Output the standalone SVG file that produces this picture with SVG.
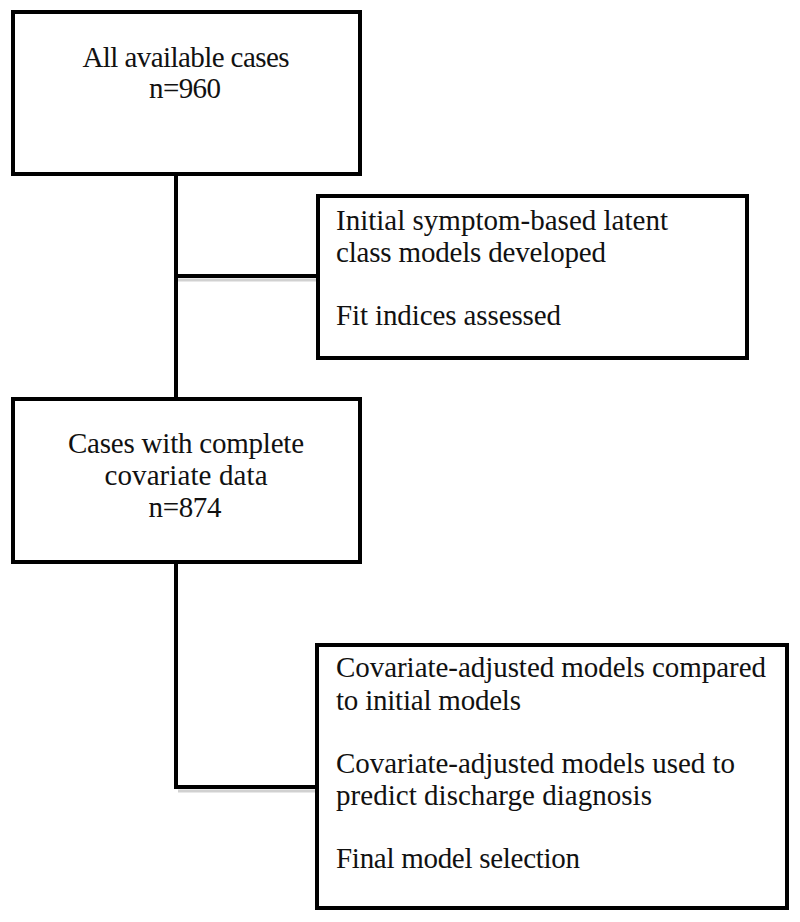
<svg xmlns="http://www.w3.org/2000/svg" width="800" height="922" viewBox="0 0 800 922">
<style>
.box{fill:#fff;stroke:#000;stroke-width:4}
.ln{fill:none;stroke:#000;stroke-width:4;stroke-linejoin:miter;stroke-linecap:square}
.sh{fill:none;stroke:#000;stroke-opacity:0.18;stroke-width:3}
text{font-family:"Liberation Serif","Times New Roman",serif;font-size:29px;fill:#111}
.c{text-anchor:middle}
</style>
<rect width="800" height="922" fill="#fff"/>
<g id="connectors">
<path class="sh" d="M178 280 H318"/>
<path class="sh" d="M178 791 H317"/>
<path class="ln" d="M176 174 V399"/>
<path class="ln" d="M176 276 H318"/>
<path class="ln" d="M176 562 V787 H317"/>
</g>
<g id="node1">
<rect class="box" x="13" y="12" width="347" height="162"/>
<text class="c" x="186" y="67" textLength="207">All available cases</text>
<text class="c" x="185" y="98" textLength="72">n=960</text>
</g>
<g id="node2">
<rect class="box" x="318" y="196" width="429" height="162"/>
<text x="336" y="230" textLength="332">Initial symptom-based latent</text>
<text x="336" y="262" textLength="270">class models developed</text>
<text x="336" y="325" textLength="225">Fit indices assessed</text>
</g>
<g id="node3">
<rect class="box" x="13" y="399" width="347" height="163"/>
<text class="c" x="186" y="453" textLength="236">Cases with complete</text>
<text class="c" x="186" y="485" textLength="163">covariate data</text>
<text class="c" x="185" y="517" textLength="73">n=874</text>
</g>
<g id="node4">
<rect class="box" x="317" y="645" width="470" height="263"/>
<text x="336" y="677" textLength="430">Covariate-adjusted models compared</text>
<text x="336" y="710" textLength="185">to initial models</text>
<text x="336" y="773" textLength="399">Covariate-adjusted models used to</text>
<text x="336" y="805" textLength="316">predict discharge diagnosis</text>
<text x="336" y="868" textLength="244">Final model selection</text>
</g>
</svg>
